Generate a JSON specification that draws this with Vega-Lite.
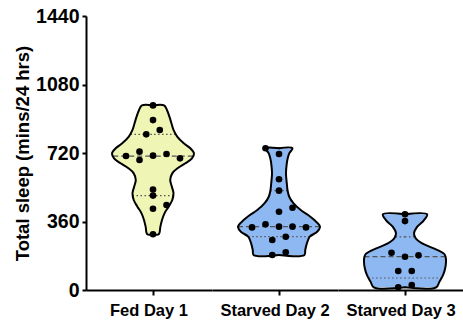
{
  "$schema": "https://vega.github.io/schema/vega-lite/v6.json",
  "padding": {"left": 13, "top": 6, "right": 0, "bottom": 0},
  "data": {
    "values": [
      {"kind": "point", "group": "Fed Day 1", "v": 970, "slot": 0},
      {"kind": "point", "group": "Fed Day 1", "v": 893, "slot": 0},
      {"kind": "point", "group": "Fed Day 1", "v": 841, "slot": 0.5},
      {"kind": "point", "group": "Fed Day 1", "v": 818, "slot": -0.5},
      {"kind": "point", "group": "Fed Day 1", "v": 704, "slot": -2},
      {"kind": "point", "group": "Fed Day 1", "v": 727, "slot": -1},
      {"kind": "point", "group": "Fed Day 1", "v": 683, "slot": -1},
      {"kind": "point", "group": "Fed Day 1", "v": 706, "slot": 0},
      {"kind": "point", "group": "Fed Day 1", "v": 715, "slot": 1},
      {"kind": "point", "group": "Fed Day 1", "v": 692, "slot": 2},
      {"kind": "point", "group": "Fed Day 1", "v": 528, "slot": 0},
      {"kind": "point", "group": "Fed Day 1", "v": 496, "slot": 0},
      {"kind": "point", "group": "Fed Day 1", "v": 447, "slot": 1},
      {"kind": "point", "group": "Fed Day 1", "v": 427, "slot": 0},
      {"kind": "point", "group": "Fed Day 1", "v": 293, "slot": 0},

      {"kind": "point", "group": "Starved Day 2", "v": 745, "slot": -1},
      {"kind": "point", "group": "Starved Day 2", "v": 715, "slot": 0},
      {"kind": "point", "group": "Starved Day 2", "v": 582, "slot": 0},
      {"kind": "point", "group": "Starved Day 2", "v": 522, "slot": 0},
      {"kind": "point", "group": "Starved Day 2", "v": 432, "slot": 1},
      {"kind": "point", "group": "Starved Day 2", "v": 411, "slot": 0},
      {"kind": "point", "group": "Starved Day 2", "v": 329, "slot": -2},
      {"kind": "point", "group": "Starved Day 2", "v": 345, "slot": -1},
      {"kind": "point", "group": "Starved Day 2", "v": 333, "slot": 0},
      {"kind": "point", "group": "Starved Day 2", "v": 333, "slot": 1},
      {"kind": "point", "group": "Starved Day 2", "v": 329, "slot": 2},
      {"kind": "point", "group": "Starved Day 2", "v": 280, "slot": 0.5},
      {"kind": "point", "group": "Starved Day 2", "v": 263, "slot": -0.5},
      {"kind": "point", "group": "Starved Day 2", "v": 198, "slot": 0.5},
      {"kind": "point", "group": "Starved Day 2", "v": 184, "slot": -0.5},

      {"kind": "point", "group": "Starved Day 3", "v": 398, "slot": 0},
      {"kind": "point", "group": "Starved Day 3", "v": 362, "slot": 0},
      {"kind": "point", "group": "Starved Day 3", "v": 196, "slot": -1},
      {"kind": "point", "group": "Starved Day 3", "v": 175, "slot": 0},
      {"kind": "point", "group": "Starved Day 3", "v": 182, "slot": 1},
      {"kind": "point", "group": "Starved Day 3", "v": 100, "slot": -0.5},
      {"kind": "point", "group": "Starved Day 3", "v": 100, "slot": 0.5},
      {"kind": "point", "group": "Starved Day 3", "v": 14, "slot": -0.5},
      {"kind": "point", "group": "Starved Day 3", "v": 26, "slot": 0.5},

      {"kind": "cap", "group": "Fed Day 1", "v": 293, "w": 0, "i": 0},
      {"kind": "outline", "group": "Fed Day 1", "v": 293, "w": 0.14, "i": 1},
      {"kind": "outline", "group": "Fed Day 1", "v": 333, "w": 0.18, "i": 2},
      {"kind": "outline", "group": "Fed Day 1", "v": 368, "w": 0.22, "i": 3},
      {"kind": "outline", "group": "Fed Day 1", "v": 403, "w": 0.28, "i": 4},
      {"kind": "outline", "group": "Fed Day 1", "v": 438, "w": 0.38, "i": 5},
      {"kind": "outline", "group": "Fed Day 1", "v": 473, "w": 0.47, "i": 6},
      {"kind": "outline", "group": "Fed Day 1", "v": 508, "w": 0.50, "i": 7},
      {"kind": "outline", "group": "Fed Day 1", "v": 543, "w": 0.46, "i": 8},
      {"kind": "outline", "group": "Fed Day 1", "v": 578, "w": 0.42, "i": 9},
      {"kind": "outline", "group": "Fed Day 1", "v": 613, "w": 0.47, "i": 10},
      {"kind": "outline", "group": "Fed Day 1", "v": 640, "w": 0.60, "i": 11},
      {"kind": "outline", "group": "Fed Day 1", "v": 666, "w": 0.79, "i": 12},
      {"kind": "outline", "group": "Fed Day 1", "v": 692, "w": 0.95, "i": 13},
      {"kind": "outline", "group": "Fed Day 1", "v": 718, "w": 1.0, "i": 14},
      {"kind": "outline", "group": "Fed Day 1", "v": 745, "w": 0.91, "i": 15},
      {"kind": "outline", "group": "Fed Day 1", "v": 771, "w": 0.75, "i": 16},
      {"kind": "outline", "group": "Fed Day 1", "v": 806, "w": 0.59, "i": 17},
      {"kind": "outline", "group": "Fed Day 1", "v": 841, "w": 0.50, "i": 18},
      {"kind": "outline", "group": "Fed Day 1", "v": 876, "w": 0.45, "i": 19},
      {"kind": "outline", "group": "Fed Day 1", "v": 911, "w": 0.40, "i": 20},
      {"kind": "outline", "group": "Fed Day 1", "v": 946, "w": 0.34, "i": 21},
      {"kind": "outline", "group": "Fed Day 1", "v": 970, "w": 0.27, "i": 22},
      {"kind": "cap", "group": "Fed Day 1", "v": 970, "w": 0, "i": 23},

      {"kind": "cap", "group": "Starved Day 2", "v": 184, "w": 0, "i": 0},
      {"kind": "outline", "group": "Starved Day 2", "v": 184, "w": 0.62, "i": 1},
      {"kind": "outline", "group": "Starved Day 2", "v": 210, "w": 0.64, "i": 2},
      {"kind": "outline", "group": "Starved Day 2", "v": 245, "w": 0.68, "i": 3},
      {"kind": "outline", "group": "Starved Day 2", "v": 280, "w": 0.75, "i": 4},
      {"kind": "outline", "group": "Starved Day 2", "v": 306, "w": 0.93, "i": 5},
      {"kind": "outline", "group": "Starved Day 2", "v": 330, "w": 1.0, "i": 6},
      {"kind": "outline", "group": "Starved Day 2", "v": 342, "w": 0.98, "i": 7},
      {"kind": "outline", "group": "Starved Day 2", "v": 366, "w": 0.87, "i": 8},
      {"kind": "outline", "group": "Starved Day 2", "v": 394, "w": 0.71, "i": 9},
      {"kind": "outline", "group": "Starved Day 2", "v": 420, "w": 0.53, "i": 10},
      {"kind": "outline", "group": "Starved Day 2", "v": 456, "w": 0.35, "i": 11},
      {"kind": "outline", "group": "Starved Day 2", "v": 490, "w": 0.25, "i": 12},
      {"kind": "outline", "group": "Starved Day 2", "v": 522, "w": 0.21, "i": 13},
      {"kind": "outline", "group": "Starved Day 2", "v": 561, "w": 0.19, "i": 14},
      {"kind": "outline", "group": "Starved Day 2", "v": 613, "w": 0.17, "i": 15},
      {"kind": "outline", "group": "Starved Day 2", "v": 666, "w": 0.19, "i": 16},
      {"kind": "outline", "group": "Starved Day 2", "v": 690, "w": 0.21, "i": 17},
      {"kind": "outline", "group": "Starved Day 2", "v": 718, "w": 0.25, "i": 18},
      {"kind": "outline", "group": "Starved Day 2", "v": 745, "w": 0.33, "i": 19},
      {"kind": "cap", "group": "Starved Day 2", "v": 745, "w": 0, "i": 20},

      {"kind": "cap", "group": "Starved Day 3", "v": 14, "w": 0, "i": 0},
      {"kind": "outline", "group": "Starved Day 3", "v": 14, "w": 0.76, "i": 1},
      {"kind": "outline", "group": "Starved Day 3", "v": 44, "w": 0.84, "i": 2},
      {"kind": "outline", "group": "Starved Day 3", "v": 79, "w": 0.93, "i": 3},
      {"kind": "outline", "group": "Starved Day 3", "v": 114, "w": 0.98, "i": 4},
      {"kind": "outline", "group": "Starved Day 3", "v": 149, "w": 1.0, "i": 5},
      {"kind": "outline", "group": "Starved Day 3", "v": 175, "w": 0.99, "i": 6},
      {"kind": "outline", "group": "Starved Day 3", "v": 191, "w": 0.95, "i": 7},
      {"kind": "outline", "group": "Starved Day 3", "v": 219, "w": 0.70, "i": 8},
      {"kind": "outline", "group": "Starved Day 3", "v": 245, "w": 0.42, "i": 9},
      {"kind": "outline", "group": "Starved Day 3", "v": 272, "w": 0.26, "i": 10},
      {"kind": "outline", "group": "Starved Day 3", "v": 298, "w": 0.22, "i": 11},
      {"kind": "outline", "group": "Starved Day 3", "v": 333, "w": 0.30, "i": 12},
      {"kind": "outline", "group": "Starved Day 3", "v": 366, "w": 0.46, "i": 13},
      {"kind": "outline", "group": "Starved Day 3", "v": 398, "w": 0.54, "i": 14},
      {"kind": "cap", "group": "Starved Day 3", "v": 398, "w": 0, "i": 15},

      {"kind": "quartile", "group": "Fed Day 1", "stat": "quartile", "v": 496, "w": 0.50},
      {"kind": "quartile", "group": "Fed Day 1", "stat": "median", "v": 704, "w": 0.97},
      {"kind": "quartile", "group": "Fed Day 1", "stat": "quartile", "v": 818, "w": 0.55},
      {"kind": "quartile", "group": "Starved Day 2", "stat": "quartile", "v": 280, "w": 0.75},
      {"kind": "quartile", "group": "Starved Day 2", "stat": "median", "v": 333, "w": 1.0},
      {"kind": "quartile", "group": "Starved Day 2", "stat": "quartile", "v": 522, "w": 0.21},
      {"kind": "quartile", "group": "Starved Day 3", "stat": "quartile", "v": 63, "w": 0.90},
      {"kind": "quartile", "group": "Starved Day 3", "stat": "median", "v": 175, "w": 0.99},
      {"kind": "quartile", "group": "Starved Day 3", "stat": "quartile", "v": 279, "w": 0.23}
    ]
  },
  "spacing": 0,
  "resolve": {"scale": {"x": "independent"}},
  "facet": {
    "column": {
      "field": "group",
      "type": "nominal",
      "sort": ["Fed Day 1", "Starved Day 2", "Starved Day 3"],
      "title": null,
      "header": {
        "labelOrient": "bottom",
        "labelPadding": 7,
        "labelFontSize": 16.5,
        "labelFontWeight": "bold",
        "labelFont": "Liberation Sans",
        "labelColor": "black"
      }
    }
  },
  "spec": {
    "width": 126,
    "height": 274,
    "resolve": {"scale": {"x": "independent"}},
    "layer": [
      {
        "layer": [
          {
            "transform": [{"filter": {"field": "kind", "equal": "outline"}}],
            "mark": {"type": "area", "orient": "horizontal", "interpolate": "catmull-rom"},
            "encoding": {
              "x": {"field": "w", "type": "quantitative", "scale": {"domain": [-1.63415, 1.43902], "nice": false, "zero": false}, "axis": null},
              "y": {"field": "v", "type": "quantitative", "scale": {"domain": [0, 1440], "nice": false}, "axis": {"values": [0, 360, 720, 1080, 1440], "format": "d"}, "title": "Total sleep (mins/24 hrs)"},
              "fill": {"field": "group", "type": "nominal", "scale": {"domain": ["Fed Day 1", "Starved Day 2", "Starved Day 3"], "range": ["#EFF5B5", "#8DB8F2", "#8DB8F2"]}, "legend": null}
            }
          },
          {
            "transform": [{"filter": {"field": "kind", "equal": "quartile"}}],
            "mark": {"type": "rule", "color": "#555555", "strokeWidth": 1.2},
            "encoding": {
              "x": {"field": "w", "type": "quantitative", "scale": {"domain": [-1.63415, 1.43902], "nice": false, "zero": false}, "axis": null},
              "x2": {"datum": 0},
              "y": {"field": "v", "type": "quantitative", "scale": {"domain": [0, 1440], "nice": false}, "axis": {"values": [0, 360, 720, 1080, 1440], "format": "d"}, "title": "Total sleep (mins/24 hrs)"},
              "strokeDash": {"field": "stat", "type": "nominal", "scale": {"domain": ["median", "quartile"], "range": [[5, 3], [1.5, 2.5]]}, "legend": null}
            }
          },
          {
            "transform": [{"filter": {"field": "kind", "oneOf": ["outline", "cap"]}}],
            "mark": {"type": "line", "color": "black", "strokeWidth": 2, "interpolate": "catmull-rom", "strokeJoin": "round", "strokeCap": "round"},
            "encoding": {
              "x": {"field": "w", "type": "quantitative", "scale": {"domain": [-1.63415, 1.43902], "nice": false, "zero": false}, "axis": null},
              "y": {"field": "v", "type": "quantitative", "scale": {"domain": [0, 1440], "nice": false}, "axis": {"values": [0, 360, 720, 1080, 1440], "format": "d"}, "title": "Total sleep (mins/24 hrs)"},
              "order": {"field": "i", "type": "quantitative"}
            }
          }
        ]
      },
      {
        "layer": [
          {
            "transform": [{"filter": {"field": "kind", "equal": "outline"}}],
            "mark": {"type": "area", "orient": "horizontal", "interpolate": "catmull-rom"},
            "encoding": {
              "x": {"field": "w", "type": "quantitative", "scale": {"domain": [-1.43902, 1.63415], "nice": false, "zero": false, "reverse": true}, "axis": null},
              "y": {"field": "v", "type": "quantitative", "scale": {"domain": [0, 1440], "nice": false}, "axis": {"values": [0, 360, 720, 1080, 1440], "format": "d"}, "title": "Total sleep (mins/24 hrs)"},
              "fill": {"field": "group", "type": "nominal", "scale": {"domain": ["Fed Day 1", "Starved Day 2", "Starved Day 3"], "range": ["#EFF5B5", "#8DB8F2", "#8DB8F2"]}, "legend": null}
            }
          },
          {
            "transform": [{"filter": {"field": "kind", "equal": "quartile"}}],
            "mark": {"type": "rule", "color": "#555555", "strokeWidth": 1.2},
            "encoding": {
              "x": {"field": "w", "type": "quantitative", "scale": {"domain": [-1.43902, 1.63415], "nice": false, "zero": false, "reverse": true}, "axis": null},
              "x2": {"datum": 0},
              "y": {"field": "v", "type": "quantitative", "scale": {"domain": [0, 1440], "nice": false}, "axis": {"values": [0, 360, 720, 1080, 1440], "format": "d"}, "title": "Total sleep (mins/24 hrs)"},
              "strokeDash": {"field": "stat", "type": "nominal", "scale": {"domain": ["median", "quartile"], "range": [[5, 3], [1.5, 2.5]]}, "legend": null}
            }
          },
          {
            "transform": [{"filter": {"field": "kind", "oneOf": ["outline", "cap"]}}],
            "mark": {"type": "line", "color": "black", "strokeWidth": 2, "interpolate": "catmull-rom", "strokeJoin": "round", "strokeCap": "round"},
            "encoding": {
              "x": {"field": "w", "type": "quantitative", "scale": {"domain": [-1.43902, 1.63415], "nice": false, "zero": false, "reverse": true}, "axis": null},
              "y": {"field": "v", "type": "quantitative", "scale": {"domain": [0, 1440], "nice": false}, "axis": {"values": [0, 360, 720, 1080, 1440], "format": "d"}, "title": "Total sleep (mins/24 hrs)"},
              "order": {"field": "i", "type": "quantitative"}
            }
          }
        ]
      },
      {
        "transform": [{"filter": {"field": "kind", "equal": "point"}}],
        "mark": {"type": "circle", "color": "black", "size": 44, "opacity": 1},
        "encoding": {
          "x": {"field": "slot", "type": "quantitative", "scale": {"domain": [-4.96296, 4.37037], "nice": false, "zero": false}, "axis": {"values": [0], "labels": false, "title": null, "domain": true, "ticks": true, "grid": false}},
          "y": {"field": "v", "type": "quantitative", "scale": {"domain": [0, 1440], "nice": false}, "axis": {"values": [0, 360, 720, 1080, 1440], "format": "d"}, "title": "Total sleep (mins/24 hrs)"}
        }
      }
    ]
  },
  "config": {
    "view": {"stroke": null},
    "font": "Liberation Sans",
    "axis": {
      "domainColor": "black",
      "domainWidth": 2,
      "tickColor": "black",
      "tickWidth": 2,
      "labelColor": "black",
      "titleColor": "black",
      "labelFont": "Liberation Sans",
      "titleFont": "Liberation Sans",
      "labelFontWeight": "bold",
      "titleFontWeight": "bold",
      "grid": false
    },
    "axisY": {"labelFontSize": 19.5, "titleFontSize": 18.5, "tickSize": 4, "labelPadding": 3, "titlePadding": 3},
    "axisX": {"tickSize": 5}
  }
}
